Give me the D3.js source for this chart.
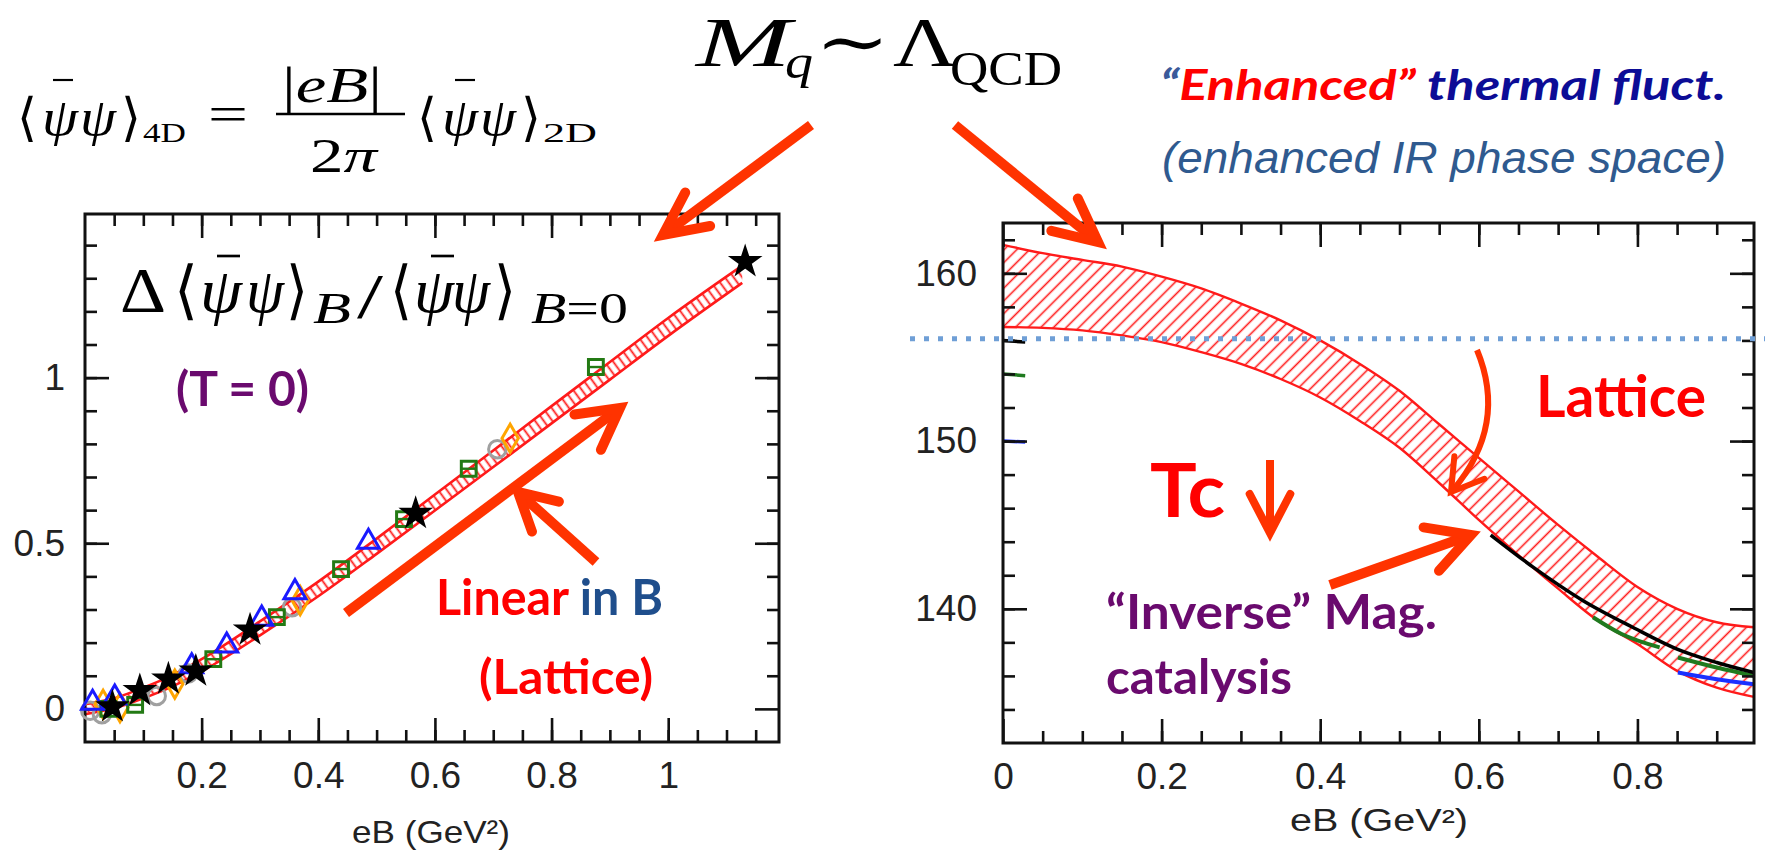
<!DOCTYPE html>
<html>
<head>
<meta charset="utf-8">
<script src="https://cdn.jsdelivr.net/npm/d3@7"></script>
<style>
  body { margin: 0; background: #fff; }
  svg text { font-family: "Liberation Sans", Arial, sans-serif; }
  .tick text { font-size: 37px; fill: #222; }
  .tick line { stroke: #111; stroke-width: 2.6px; }
  .math text, text.math { font-family: "Liberation Serif", "DejaVu Serif", serif; fill: #000; }
  .slide { font-family: Lato, "Open Sans", sans-serif !important; font-weight: bold; }
</style>
</head>
<body>
<script>
// left panel: chiral condensate vs eB (T = 0)
const leftBandX  = [0, 0.05, 0.1, 0.15, 0.2, 0.3, 0.4, 0.5, 0.6, 0.7, 0.8, 0.9, 1.0, 1.127];
const leftBandHi = [0.014, 0.032, 0.064, 0.102, 0.15, 0.264, 0.384, 0.514, 0.647, 0.78, 0.914, 1.047, 1.18, 1.338];
const leftBandLo = [-0.016, 0.002, 0.032, 0.068, 0.113, 0.222, 0.34, 0.468, 0.599, 0.73, 0.862, 0.994, 1.126, 1.286];

const greenSq  = [[0.04, 0.0], [0.086, 0.012], [0.22, 0.15], [0.329, 0.277], [0.439, 0.422], [0.547, 0.573], [0.658, 0.725], [0.876, 1.032]];
const blackStar = [[0.047, 0.006], [0.094, 0.055], [0.143, 0.09], [0.19, 0.114], [0.283, 0.238], [0.567, 0.59], [1.132, 1.35]];
const blueTri  = [[0.013, 0.018], [0.051, 0.034], [0.183, 0.128], [0.243, 0.191], [0.303, 0.272], [0.36, 0.352], [0.486, 0.504]];
const grayCirc = [[0.009, -0.006], [0.029, -0.016], [0.123, 0.039], [0.177, 0.107], [0.355, 0.307], [0.707, 0.784]];
const orangeDm = [[0.031, 0.014], [0.06, 0.004], [0.154, 0.075], [0.369, 0.327], [0.729, 0.817]];

const leftXMajor = [0.2, 0.4, 0.6, 0.8, 1];
const leftYMajor = [0, 0.5, 1];

// right panel: Tc vs eB
const rightBandX  = [0, 0.05, 0.1, 0.15, 0.2, 0.25, 0.3, 0.35, 0.4, 0.45, 0.5, 0.55, 0.6, 0.65, 0.7, 0.75, 0.8, 0.85, 0.9, 0.947];
const rightBandHi = [161.7, 161.2, 160.8, 160.4, 159.8, 159.1, 158.2, 157.2, 156.0, 154.6, 153.0, 151.0, 149.0, 147.0, 145.0, 143.1, 141.3, 140.0, 139.2, 138.9];
const rightBandLo = [156.8, 156.75, 156.6, 156.3, 155.9, 155.3, 154.6, 153.7, 152.6, 151.2, 149.6, 147.5, 145.3, 143.2, 141.2, 139.3, 137.9, 136.3, 135.3, 134.75];

const blackCurveX = [0.615, 0.668, 0.731, 0.794, 0.85, 0.9, 0.947];
const blackCurveY = [144.4, 142.5, 140.5, 138.9, 137.6, 136.8, 136.2];
const greenCurveAX = [0.744, 0.78, 0.828];
const greenCurveAY = [139.5, 138.5, 137.7];
const greenCurveBX = [0.851, 0.9, 0.947];
const greenCurveBY = [137.1, 136.5, 136.0];
const blueCurveX = [0.851, 0.9, 0.947];
const blueCurveY = [136.2, 135.8, 135.5];
const stubX = [0, 0.028];
const stubBlack = [156.0, 155.9];
const stubGreen = [154.0, 153.9];
const stubBlue = [150.0, 149.95];
const tcRef = 156.1;

const rightXMajor = [0, 0.2, 0.4, 0.6, 0.8];
const rightYMajor = [140, 150, 160];

const W = 1765, H = 854;
const RED = "#ff1a1a", ARROW = "#ff3300", PURPLE = "#6a0a6e";

const svg = d3.select("body").append("svg")
    .attr("width", W)
    .attr("height", H);

const defs = svg.append("defs");

function hatch(id, angle, gap, width) {
    defs.append("pattern")
        .attr("id", id)
        .attr("patternUnits", "userSpaceOnUse")
        .attr("width", gap).attr("height", gap)
        .attr("patternTransform", "rotate(" + angle + ")")
        .append("line")
        .attr("x1", gap / 2).attr("y1", 0)
        .attr("x2", gap / 2).attr("y2", gap)
        .attr("stroke", RED)
        .attr("stroke-width", width);
}
hatch("hatchL", -36, 7, 1.8);
hatch("hatchR", 45, 9, 1.6);

// draws the inward ticks on the four sides and the labels on bottom / left
function frame(g, x, y, xMajor, xMinor, yMajor, yMinor, xPad, yPad) {
    const [xa, xb] = x.range();
    const [ya, yb] = y.range();
    const fmt = d3.format("~g");
    const sides = [
        [d3.axisBottom, x, ya, 0, xMajor, xMinor, true, xPad],
        [d3.axisTop, x, yb, 0, xMajor, xMinor, false, xPad],
        [d3.axisLeft, y, 0, xa, yMajor, yMinor, true, yPad],
        [d3.axisRight, y, 0, xb, yMajor, yMinor, false, yPad]
    ];
    sides.forEach(s => {
        const [make, sc, ty, tx, major, minor, labelled, pad] = s;
        g.append("g")
            .attr("transform", "translate(" + tx + "," + ty + ")")
            .call(make(sc).tickValues(minor).tickSize(-12).tickFormat(""))
            .call(a => a.select(".domain").remove());
        g.append("g")
            .attr("transform", "translate(" + tx + "," + ty + ")")
            .call(make(sc).tickValues(major).tickSize(-24).tickPadding(pad).tickFormat(labelled ? fmt : ""))
            .call(a => a.select(".domain").remove());
    });
    g.append("rect")
        .attr("x", xa).attr("y", yb)
        .attr("width", xb - xa).attr("height", ya - yb)
        .attr("fill", "none")
        .attr("stroke", "#111")
        .attr("stroke-width", 3);
}

function arrow(g, from, to, w, head, spread) {
    const ang = Math.atan2(to[1] - from[1], to[0] - from[0]);
    g.append("line")
        .attr("x1", from[0]).attr("y1", from[1])
        .attr("x2", to[0] - Math.cos(ang) * w * 0.6).attr("y2", to[1] - Math.sin(ang) * w * 0.6)
        .attr("stroke", ARROW).attr("stroke-width", w);
    headAt(g, to, ang, w, head, spread);
}

function headAt(g, tip, ang, w, head, spread) {
    const a1 = ang + Math.PI - spread, a2 = ang + Math.PI + spread;
    g.append("path")
        .attr("d", "M" + (tip[0] + head * Math.cos(a1)) + "," + (tip[1] + head * Math.sin(a1)) +
            "L" + tip[0] + "," + tip[1] +
            "L" + (tip[0] + head * Math.cos(a2)) + "," + (tip[1] + head * Math.sin(a2)))
        .attr("fill", "none")
        .attr("stroke", ARROW).attr("stroke-width", w)
        .attr("stroke-linecap", "round")
        .attr("stroke-linejoin", "miter");
}

function put(g, x, y, str, size, len, italic) {
    const t = g.append("text")
        .attr("x", x).attr("y", y)
        .attr("font-size", size)
        .attr("textLength", len)
        .attr("lengthAdjust", "spacingAndGlyphs")
        .text(str);
    if (italic) t.attr("font-style", "italic");
    return t;
}

// <psibar psi> built glyph by glyph: [bracket, psi, psi, bracket] x positions, bar above first psi
function condensate(g, x, y, size, xs, lens, barY, bar) {
    put(g, x + xs[0], y, "⟨", size, lens[0]);
    put(g, x + xs[1], y, "ψ", size, lens[1], true);
    put(g, x + xs[2], y, "ψ", size, lens[2], true);
    put(g, x + xs[3], y, "⟩", size, lens[3]);
    g.append("line")
        .attr("x1", x + bar[0]).attr("x2", x + bar[1])
        .attr("y1", barY).attr("y2", barY)
        .attr("stroke", "#000").attr("stroke-width", size / 24);
}

// ---------------- left panel
const xL = d3.scaleLinear().domain([0, 1.19]).range([85, 779]);
const yL = d3.scaleLinear().domain([-0.1, 1.494]).range([742, 214]);
const left = svg.append("g");

const bandL = d3.area()
    .x(i => xL(leftBandX[i]))
    .y0(i => yL(leftBandLo[i]))
    .y1(i => yL(leftBandHi[i]))
    .curve(d3.curveMonotoneX);
const idxL = d3.range(leftBandX.length);
left.append("path").attr("d", bandL(idxL)).attr("fill", "url(#hatchL)");
left.append("path").attr("d", bandL.lineY1()(idxL)).attr("fill", "none").attr("stroke", RED).attr("stroke-width", 2.6);
left.append("path").attr("d", bandL.lineY0()(idxL)).attr("fill", "none").attr("stroke", RED).attr("stroke-width", 2.6);

frame(left, xL, yL, leftXMajor, d3.range(0.05, 1.16, 0.05), leftYMajor, d3.range(0.1, 1.45, 0.1), 20, 20);

function markers(data, type, size, fill, stroke) {
    left.selectAll(null)
        .data(data)
        .enter().append("path")
        .attr("transform", d => "translate(" + xL(d[0]) + "," + yL(d[1]) + ")")
        .attr("d", d3.symbol().type(type).size(size))
        .attr("fill", fill)
        .attr("stroke", stroke)
        .attr("stroke-width", 3);
}
markers(grayCirc, d3.symbolCircle, 240, "none", "#a0a0a0");
markers(orangeDm, d3.symbolDiamond, 230, "none", "#ffa500");
markers(greenSq, d3.symbolSquare, 220, "none", "#237a14");
left.selectAll(null)
    .data(greenSq)
    .enter().append("line")
    .attr("x1", d => xL(d[0]) - 8).attr("x2", d => xL(d[0]) + 8)
    .attr("y1", d => yL(d[1])).attr("y2", d => yL(d[1]))
    .attr("stroke", "#237a14").attr("stroke-width", 2.4);
markers(blueTri, d3.symbolTriangle, 210, "none", "#1a1aff");
markers(blackStar, d3.symbolStar, 200, "#000", "#000");

// formula inside left panel
const fL = svg.append("g").attr("class", "math");
put(fL, 120, 312, "Δ", 64, 46);
condensate(fL, 174, 312, 64, [0, 26, 72, 112], [24, 42, 38, 22], 256, [43, 66]);
put(fL, 313, 323, "B", 44, 38, true);
put(fL, 357, 318, "/", 64, 26);
condensate(fL, 390, 312, 64, [0, 24, 62, 104], [22, 40, 38, 22], 256, [41, 64]);
put(fL, 531, 323, "", 44, 97).html('<tspan font-style="italic">B</tspan>=0');

put(left, 176, 406, "(T = 0)", 48, 133).attr("class", "slide").attr("fill", PURPLE);
put(left, 436, 615, "", 50, 227).attr("class", "slide")
    .html('<tspan fill="#ff0000">Linear </tspan><tspan fill="#1f4e8c">in B</tspan>');
put(left, 479, 694, "(Lattice)", 48, 174).attr("class", "slide").attr("fill", "#ff0000");

put(left, 352, 843, "", 32, 158).attr("fill", "#222").html('eB (GeV²)');

arrow(left, [346, 613], [620, 408], 10, 46, 0.5);
arrow(left, [596, 562], [518, 492], 10, 42, 0.5);

// ---------------- right panel
const xR = d3.scaleLinear().domain([0, 0.947]).range([1003, 1754]);
const yR = d3.scaleLinear().domain([132, 163]).range([743, 223]);
const right = svg.append("g");

defs.append("clipPath").attr("id", "clipR")
    .append("rect").attr("x", 1003).attr("y", 223).attr("width", 751).attr("height", 520);

const plotR = right.append("g").attr("clip-path", "url(#clipR)");
const bandR = d3.area()
    .x(i => xR(rightBandX[i]))
    .y0(i => yR(rightBandLo[i]))
    .y1(i => yR(rightBandHi[i]))
    .curve(d3.curveMonotoneX);
const idxR = d3.range(rightBandX.length);
plotR.append("path").attr("d", bandR(idxR)).attr("fill", "url(#hatchR)");
plotR.append("path").attr("d", bandR.lineY1()(idxR)).attr("fill", "none").attr("stroke", RED).attr("stroke-width", 2.4);
plotR.append("path").attr("d", bandR.lineY0()(idxR)).attr("fill", "none").attr("stroke", RED).attr("stroke-width", 2.4);

function curve(xs, ys, color, w) {
    plotR.append("path")
        .attr("d", d3.line().x(i => xR(xs[i])).y(i => yR(ys[i])).curve(d3.curveMonotoneX)(d3.range(xs.length)))
        .attr("fill", "none")
        .attr("stroke", color)
        .attr("stroke-width", w);
}
curve(greenCurveAX, greenCurveAY, "#1f7a1f", 4);
curve(greenCurveBX, greenCurveBY, "#1f7a1f", 4);
curve(blueCurveX, blueCurveY, "#1a30ff", 4);
curve(blackCurveX, blackCurveY, "#000", 3.5);
curve(stubX, stubBlack, "#000", 3.5);
curve(stubX, stubGreen, "#1f7a1f", 3.5);
curve(stubX, stubBlue, "#1a30ff", 3.5);

frame(right, xR, yR, rightXMajor, d3.range(0.05, 0.93, 0.05), rightYMajor, d3.range(134, 163, 2), 20, 26);

right.append("line")
    .attr("x1", 910).attr("x2", W)
    .attr("y1", yR(tcRef)).attr("y2", yR(tcRef))
    .attr("stroke", "#6f9fd6")
    .attr("stroke-width", 5)
    .attr("stroke-dasharray", "5 9");

put(right, 1290, 831, "", 31, 178).attr("fill", "#222").html('eB (GeV²)');

put(right, 1536, 417, "Lattice", 58, 170).attr("class", "slide").attr("fill", "#ff0000");
put(right, 1150, 517, "Tc", 74, 75).attr("class", "slide").attr("fill", "#ff0000");
put(right, 1106, 629, "“Inverse” Mag.", 47, 331).attr("class", "slide").attr("fill", PURPLE);
put(right, 1106, 694, "catalysis", 48, 186).attr("class", "slide").attr("fill", PURPLE);

// Tc down arrow
right.append("line").attr("x1", 1270).attr("y1", 460).attr("x2", 1270).attr("y2", 528)
    .attr("stroke", ARROW).attr("stroke-width", 8);
headAt(right, [1270, 533], Math.PI / 2, 8, 44, 0.48);

arrow(right, [1330, 585], [1471, 535], 10, 48, 0.5);
right.append("path")
    .attr("d", "M1477,350 Q1508,425 1453,490")
    .attr("fill", "none").attr("stroke", ARROW).attr("stroke-width", 6);
headAt(right, [1451, 492], Math.atan2(492 - 440, 1451 - 1490), 6, 36, 0.55);

// ---------------- header
const f1 = svg.append("g").attr("class", "math");
condensate(f1, 17, 135, 52, [0, 25, 63, 104], [20, 36, 36, 20], 80, [36, 56]);
put(f1, 143, 142, "4D", 28, 43);
put(f1, 208, 131, "=", 50, 40);
put(f1, 282, 102, "", 50, 100).html('|<tspan font-style="italic">eB</tspan>|');
f1.append("line").attr("x1", 276).attr("x2", 405).attr("y1", 114).attr("y2", 114)
    .attr("stroke", "#000").attr("stroke-width", 2.5);
put(f1, 310, 172, "", 48, 67).html('2<tspan font-style="italic">π</tspan>');
condensate(f1, 417, 135, 52, [0, 25, 63, 104], [20, 36, 36, 20], 80, [38, 58]);
put(f1, 543, 142, "2D", 28, 54);

const f2 = svg.append("g").attr("class", "math");
put(f2, 696, 66, "M", 70, 95, true);
put(f2, 785, 78, "q", 48, 28, true);
put(f2, 815, 66, "∼", 70, 75);
put(f2, 893, 66, "Λ", 70, 64);
put(f2, 950, 85, "QCD", 48, 112);

put(svg, 1160, 100, "", 42, 566).attr("class", "slide").attr("font-style", "italic")
    .html('<tspan fill="#3a5a9a">“</tspan><tspan fill="#ff0000">Enhanced”</tspan><tspan fill="#0c0c96"> thermal fluct.</tspan>');
put(svg, 1162, 173, "(enhanced IR phase space)", 44, 564)
    .attr("font-family", "Lato, 'Open Sans', sans-serif").attr("font-style", "italic").attr("fill", "#2f5a8f");

arrow(svg, [811, 125], [663, 235], 10, 48, 0.45);
arrow(svg, [955, 125], [1098, 242], 10, 48, 0.45);
</script>
</body>
</html>
